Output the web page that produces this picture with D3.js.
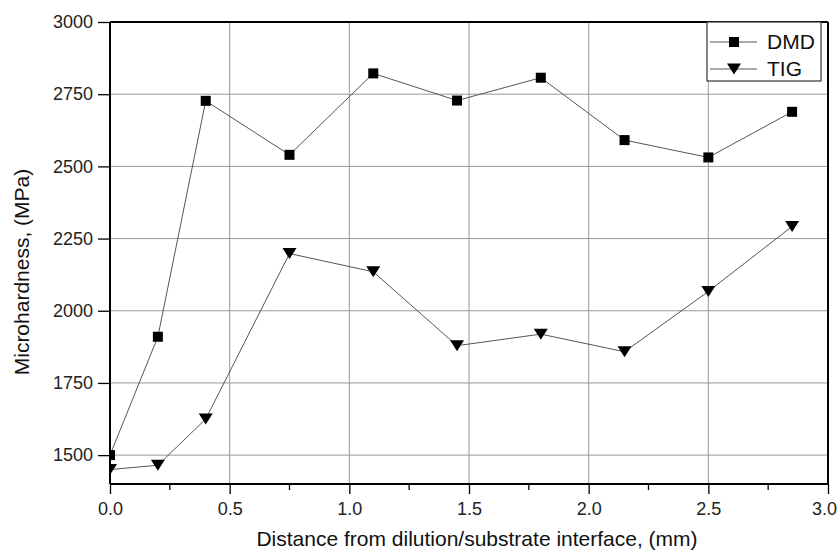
<!DOCTYPE html>
<html>
<head>
<meta charset="utf-8">
<script src="https://cdn.jsdelivr.net/npm/d3@7"></script>
<style>
  body { margin: 0; background: #fff; }
  svg { font-family: "Liberation Sans", Arial, sans-serif; }
</style>
</head>
<body>
<div id="chart"></div>
<script>
"use strict";

// distance from interface, mm
var distances = [0, 0.2, 0.4, 0.75, 1.1, 1.45, 1.8, 2.15, 2.5, 2.85];
var dmdValues = [1500, 1910, 2727, 2540, 2822, 2728, 2807, 2591, 2531, 2689];
var tigValues = [1450, 1465, 1625, 2198, 2135, 1879, 1919, 1858, 2067, 2292];
var xTicks = [0, 0.5, 1.0, 1.5, 2.0, 2.5, 3.0];
var yTicks = [1500, 1750, 2000, 2250, 2500, 2750, 3000];
var seriesNames = ["DMD", "TIG"];

var width = 838, height = 553;
var margin = { top: 22, right: 10, bottom: 69, left: 110 };
var plotW = 828 - margin.left, plotH = 484 - margin.top;

var svg = d3.select("#chart").append("svg")
    .attr("width", width)
    .attr("height", height);

var x = d3.scaleLinear().domain([0, 3]).range([0, plotW]);
var y = d3.scaleLinear().domain([1400, 3000]).range([plotH, 0]);

var g = svg.append("g")
    .attr("transform", "translate(" + margin.left + "," + margin.top + ")");

g.append("clipPath").attr("id", "plotclip")
  .append("rect").attr("width", plotW).attr("height", plotH);

// grid
g.append("g").selectAll("line")
    .data(xTicks.slice(1, -1))
    .enter().append("line")
    .attr("x1", function (d) { return x(d); })
    .attr("x2", function (d) { return x(d); })
    .attr("y1", 0).attr("y2", plotH)
    .attr("stroke", "#999").attr("stroke-width", 1);

g.append("g").selectAll("line")
    .data(yTicks.slice(0, -1))
    .enter().append("line")
    .attr("y1", function (d) { return y(d); })
    .attr("y2", function (d) { return y(d); })
    .attr("x1", 0).attr("x2", plotW)
    .attr("stroke", "#999").attr("stroke-width", 1);

// minor x ticks
var xMinor = [0.25, 0.75, 1.25, 1.75, 2.25, 2.75];
g.append("g").selectAll("line")
    .data(xMinor)
    .enter().append("line")
    .attr("x1", function (d) { return x(d); })
    .attr("x2", function (d) { return x(d); })
    .attr("y1", plotH).attr("y2", plotH + 6)
    .attr("stroke", "#000").attr("stroke-width", 1.3);

// axes
var xAxis = g.append("g")
    .attr("transform", "translate(0," + plotH + ")")
    .call(d3.axisBottom(x).tickValues(xTicks).tickFormat(d3.format(".1f")).tickSize(10).tickPadding(8));

var yAxis = g.append("g")
    .call(d3.axisLeft(y).tickValues(yTicks).tickFormat(d3.format("d")).tickSize(12).tickPadding(5));

[xAxis, yAxis].forEach(function (a) {
    a.select(".domain").attr("stroke", "#000").attr("stroke-width", 2);
    a.selectAll(".tick line").attr("stroke", "#000").attr("stroke-width", 1.3);
    a.selectAll("text").attr("font-size", 18).attr("fill", "#222")
        .style("font-family", "'Liberation Sans', Arial, sans-serif");
});
yAxis.select(".domain").attr("d", "M0," + plotH + "V0");
xAxis.select(".domain").attr("d", "M0,0H" + plotW);
// last label touches the page edge, as in the source figure
xAxis.selectAll(".tick text").filter(function (d) { return d === 3; }).attr("dx", -4);

// top and right frame
g.append("line").attr("x1", 0).attr("x2", plotW).attr("y1", 0).attr("y2", 0)
    .attr("stroke", "#000").attr("stroke-width", 2);
g.append("line").attr("x1", plotW).attr("x2", plotW).attr("y1", 0).attr("y2", plotH)
    .attr("stroke", "#000").attr("stroke-width", 2);

// series
var lineGen = function (vals) {
    return d3.line()
        .x(function (d, i) { return x(distances[i]); })
        .y(function (d) { return y(d); })(vals);
};

var plot = g.append("g").attr("clip-path", "url(#plotclip)");

var sq = 10;
var triW = 14, triH = 11;
var triPath = "M" + (-triW / 2) + "," + (-triH / 2) + "L" + (triW / 2) + "," + (-triH / 2) + "L0," + (triH / 2) + "Z";

plot.append("path").attr("d", lineGen(dmdValues))
    .attr("fill", "none").attr("stroke", "#555").attr("stroke-width", 1);
plot.append("path").attr("d", lineGen(tigValues))
    .attr("fill", "none").attr("stroke", "#555").attr("stroke-width", 1);

plot.append("g").selectAll("rect")
    .data(dmdValues)
    .enter().append("rect")
    .attr("x", function (d, i) { return x(distances[i]) - sq / 2; })
    .attr("y", function (d) { return y(d) - sq / 2; })
    .attr("width", sq).attr("height", sq)
    .attr("fill", "#000");

plot.append("g").selectAll("path")
    .data(tigValues)
    .enter().append("path")
    .attr("d", triPath)
    .attr("transform", function (d, i) { return "translate(" + x(distances[i]) + "," + y(d) + ")"; })
    .attr("fill", "#000");

// legend
var lg = svg.append("g").attr("transform", "translate(707,22)");
lg.append("rect").attr("width", 114).attr("height", 59)
    .attr("fill", "#fff").attr("stroke", "#333").attr("stroke-width", 1.2);
seriesNames.forEach(function (name, i) {
    var cy = 20 + i * 27;
    lg.append("line").attr("x1", 3).attr("x2", 50).attr("y1", cy).attr("y2", cy)
        .attr("stroke", "#555").attr("stroke-width", 1);
    if (i === 0) {
        lg.append("rect").attr("x", 27 - sq / 2).attr("y", cy - sq / 2)
            .attr("width", sq).attr("height", sq).attr("fill", "#000");
    } else {
        lg.append("path").attr("d", triPath)
            .attr("transform", "translate(27," + cy + ")").attr("fill", "#000");
    }
    lg.append("text").attr("x", 60).attr("y", cy + 7)
        .attr("font-size", 21).attr("fill", "#111").text(name);
});

// axis titles
svg.append("text")
    .attr("x", 477).attr("y", 546)
    .attr("text-anchor", "middle").attr("font-size", 21).attr("fill", "#111")
    .text("Distance from dilution/substrate interface, (mm)");

svg.append("text")
    .attr("transform", "translate(29,272) rotate(-90)")
    .attr("text-anchor", "middle").attr("font-size", 21).attr("fill", "#111")
    .text("Microhardness, (MPa)");
</script>
</body>
</html>
